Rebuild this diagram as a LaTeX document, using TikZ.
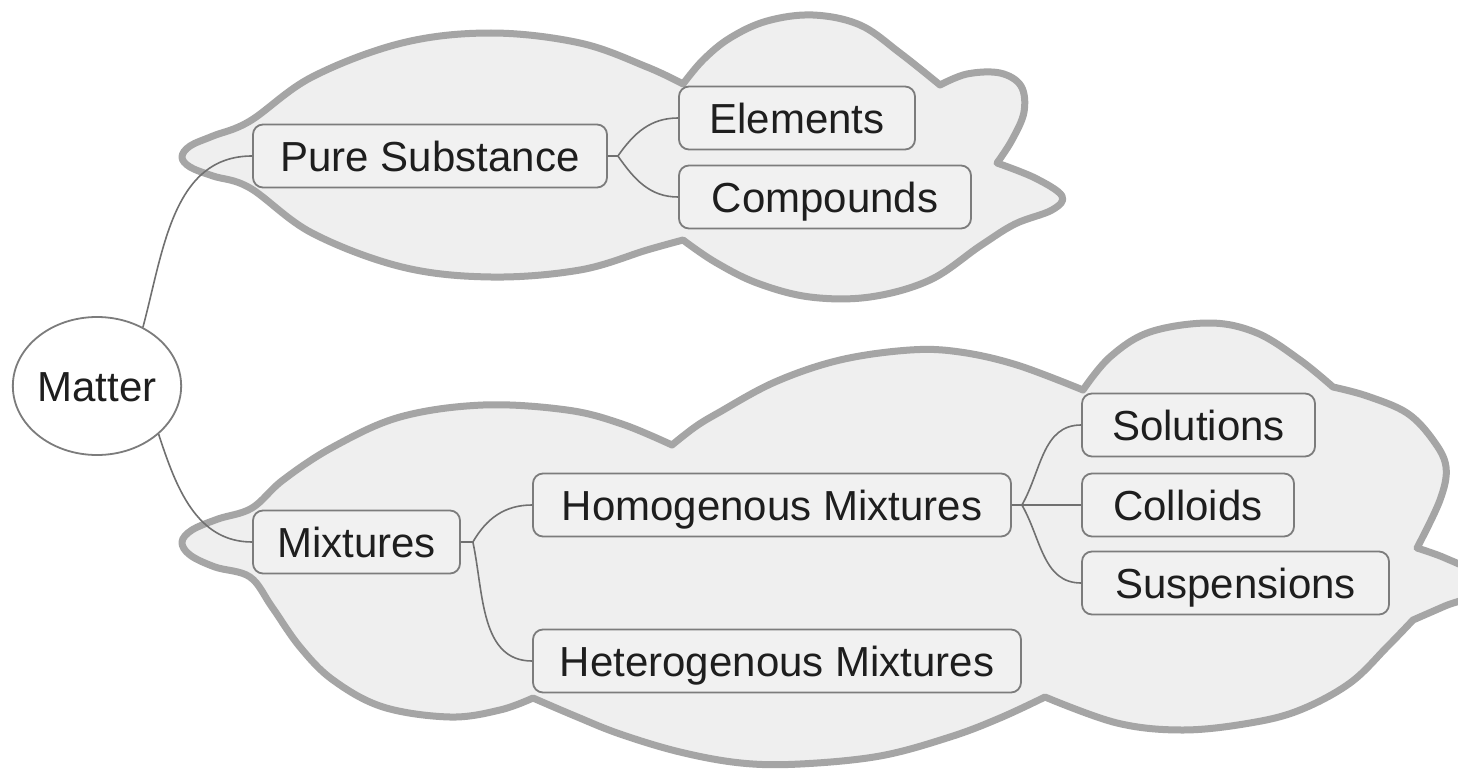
\documentclass[tikz,border=0pt]{standalone}
\usepackage{fontspec}
\setmainfont{Liberation Sans}
\usetikzlibrary{shapes.geometric}
\definecolor{cloudfill}{HTML}{EFEFEF}
\definecolor{cloudline}{HTML}{A5A5A5}
\definecolor{boxline}{HTML}{7C7C7C}
\definecolor{boxfill}{HTML}{F1F1F1}
\definecolor{linkc}{HTML}{707070}
\definecolor{txt}{HTML}{1E1E1E}
\begin{document}
\begin{tikzpicture}[x=1pt,y=-1pt,
  topic/.style={draw=boxline, fill=boxfill, line width=1.8pt, rounded corners=10pt,
    minimum height=63pt, inner sep=0pt, text height=30pt, text depth=0pt,
    font=\fontsize{42}{50}\selectfont, text=txt},
  root/.style={ellipse, draw=boxline, fill=white, line width=1.8pt,
    minimum width=163pt, minimum height=138pt, inner sep=0pt, text height=30pt, text depth=0pt,
    font=\fontsize{42}{50}\selectfont, text=txt},
  link/.style={draw=linkc, line width=1.6pt},
  cloudshape/.style={fill=cloudfill, draw=cloudline, line width=7pt, line join=round},
  sm/.style={smooth, tension=0.6}]
\fill[white] (0,0) rectangle (1458,768);
\useasboundingbox (0,0) rectangle (1458,768);

% upper cloud
\path[cloudshape]
  plot[sm] coordinates {(683,240) (647,250) (580,270) (491,277) (402,267) (312,233) (250,188) (213,176) (190,167) (182,157) (190,146) (213,136) (250,121) (312,77) (402,43) (491,33) (580,43) (647,67) (683,84)}
  -- plot[sm] coordinates {(683,84) (703,60) (730,38) (767,21) (813,15) (860,25) (900,53) (940,85)}
  -- plot[sm] coordinates {(940,85) (967,74) (1000,73) (1021,86) (1024,112) (1012,140) (997,163)}
  -- plot[sm] coordinates {(997,163) (1035,178) (1062,196) (1052,210) (1015,224) (980,246) (930,280) (870,297) (810,297) (757,283) (715,262) (683,240)}
  -- cycle;

% lower cloud
\path[cloudshape]
  plot[sm] coordinates {(533,698) (500,710) (450,717) (383,707) (333,680) (300,647) (272,607) (250,577) (215,567) (190,555) (182,542) (192,530) (218,519) (252,508) (283,480) (333,447) (400,417) (483,405) (567,410) (622,424) (672,445)}
  -- plot[sm] coordinates {(672,445) (695,427) (718,413) (775,382) (840,360) (910,350) (960,352) (1017,365) (1083,390)}
  -- plot[sm] coordinates {(1083,390) (1110,357) (1150,332) (1210,323) (1257,333) (1300,360) (1333,387)}
  -- plot[sm] coordinates {(1333,387) (1367,396) (1407,413) (1433,440) (1446,467) (1440,500) (1417,548)}
  -- plot[sm] coordinates {(1417,548) (1445,558) (1470,572) (1470,595) (1445,606) (1413,620)}
  -- plot[sm] coordinates {(1413,620) (1387,647) (1350,683) (1300,710) (1250,723) (1183,730) (1117,723) (1045,697)}
  -- plot[sm] coordinates {(1045,697) (1000,718) (950,737) (880,756) (800,764) (741,763) (680,752) (620,734) (575,716) (533,698)}
  -- cycle;

% nodes
\node[root] (matter) at (97,386) {Matter};
\node[topic, minimum width=354pt] (pure) at (430,156) {Pure Substance};
\node[topic, minimum width=236pt] (elements) at (797,118) {Elements};
\node[topic, minimum width=292pt] (compounds) at (825,197) {Compounds};
\node[topic, minimum width=207pt] (mixtures) at (356.5,542) {Mixtures};
\node[topic, minimum width=478pt] (homog) at (772,505) {Homogenous Mixtures};
\node[topic, minimum width=488pt] (heterog) at (777,661) {Heterogenous Mixtures};
\node[topic, minimum width=233pt] (solutions) at (1198.5,425) {Solutions};
\node[topic, minimum width=212pt] (colloids) at (1188,505) {Colloids};
\node[topic, minimum width=307pt] (suspensions) at (1235.5,583) {Suspensions};

% connectors
\draw[link] (matter.52) to[out=75,in=180] (pure.west);
\draw[link] (matter.-38) to[out=-72,in=180] (mixtures.west);
\draw[link] (pure.east) -- ++(10,0) to[out=55,in=180] (elements.west);
\draw[link] (pure.east) -- ++(10,0) to[out=-55,in=180] (compounds.west);
\draw[link] (mixtures.east) -- ++(12,0) to[out=60,in=180] (homog.west);
\draw[link] (mixtures.east) -- ++(12,0) to[out=-78,in=180] (heterog.west);
\draw[link] (homog.east) -- ++(10,0) to[out=60,in=180] (solutions.west);
\draw[link] (homog.east) -- (colloids.west);
\draw[link] (homog.east) -- ++(10,0) to[out=-60,in=180] (suspensions.west);
\end{tikzpicture}
\end{document}
